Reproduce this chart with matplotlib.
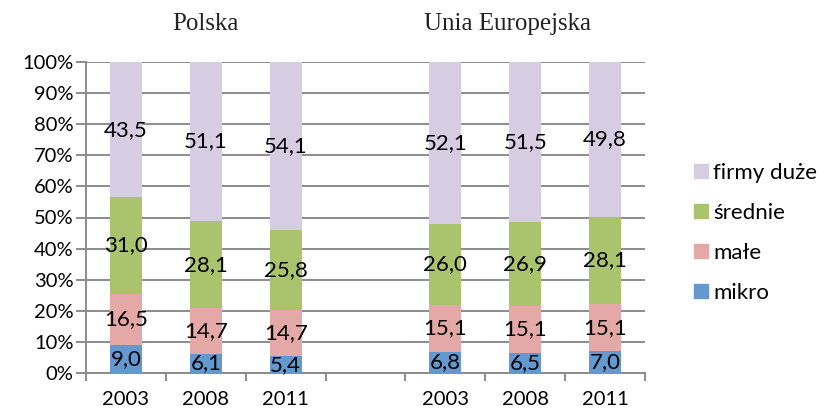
import matplotlib
matplotlib.use('Agg')
import matplotlib.pyplot as plt
from matplotlib.patches import Patch

years = ['2003', '2008', '2011', '', '2003', '2008', '2011']
groups = ['Polska', 'Unia Europejska']
series = ['mikro', 'małe', 'średnie', 'firmy duże']
# None = empty slot separating Polska and EU
mikro = [9.0, 6.1, 5.4, None, 6.8, 6.5, 7.0]
male = [16.5, 14.7, 14.7, None, 15.1, 15.1, 15.1]
srednie = [31.0, 28.1, 25.8, None, 26.0, 26.9, 28.1]
duze = [43.5, 51.1, 54.1, None, 52.1, 51.5, 49.8]
colors = ['#6399CF', '#E4A8A6', '#AAC46D', '#D6CDE2']

plt.rcParams['font.family'] = ['Lato', 'DejaVu Sans']

fig = plt.figure(figsize=(8.23, 4.13), dpi=100)
ax = fig.add_axes([86 / 823, 1 - 373 / 413, 559 / 823, 311 / 413])

x = [i for i, v in enumerate(mikro) if v is not None]
bottom = [0.0] * len(x)
for name, vals, c in zip(series, [mikro, male, srednie, duze], colors):
    v = [vals[i] for i in x]
    ax.bar(x, v, width=0.4, bottom=bottom, color=c, zorder=3)
    for xi, b, h in zip(x, bottom, v):
        ax.text(xi, b + h / 2, f'{h:.1f}'.replace('.', ','), ha='center', va='center',
                fontsize=16, color='black', zorder=4)
    bottom = [b + h for b, h in zip(bottom, v)]

ax.set_xlim(-0.5, 6.5)
ax.set_ylim(0, 100)
ax.set_yticks(range(0, 101, 10))
ax.set_yticklabels([f'{t}%' for t in range(0, 101, 10)], fontsize=14.5)
ax.set_xticks([0, 1, 2, 4, 5, 6])
ax.set_xticklabels([years[i] for i in [0, 1, 2, 4, 5, 6]], fontsize=14.5)
ax.set_xticks([i - 0.5 for i in range(8)], minor=True)
ax.tick_params(axis='x', which='major', length=0, pad=13)
ax.tick_params(axis='x', which='minor', length=6, width=1.4, color='#8c8c8c', direction='out')
ax.tick_params(axis='y', length=7, width=1.4, color='#8c8c8c', pad=2)
ax.grid(axis='y', color='#8c8c8c', linewidth=1.4, zorder=0)
ax.set_axisbelow(True)
for s in ['top', 'right']:
    ax.spines[s].set_visible(False)
for s in ['left', 'bottom']:
    ax.spines[s].set_color('#8c8c8c')
    ax.spines[s].set_linewidth(1.4)

fig.text(205 / 823, 1 - 24 / 413, groups[0], ha='center', va='center',
         fontsize=18, family='Liberation Serif', color='#222222')
fig.text(507 / 823, 1 - 24 / 413, groups[1], ha='center', va='center',
         fontsize=18, family='Liberation Serif', color='#222222')

handles = [Patch(color=c, label=n) for n, c in zip(series, colors)][::-1]
fig.legend(handles=handles, loc='center left', bbox_to_anchor=(694 / 823, 1 - 233 / 413),
           frameon=False, fontsize=16, handlelength=0.62, handleheight=0.62,
           handletextpad=0.25, labelspacing=0.9, borderpad=0, borderaxespad=0)

fig.savefig('out.png', dpi=100)
